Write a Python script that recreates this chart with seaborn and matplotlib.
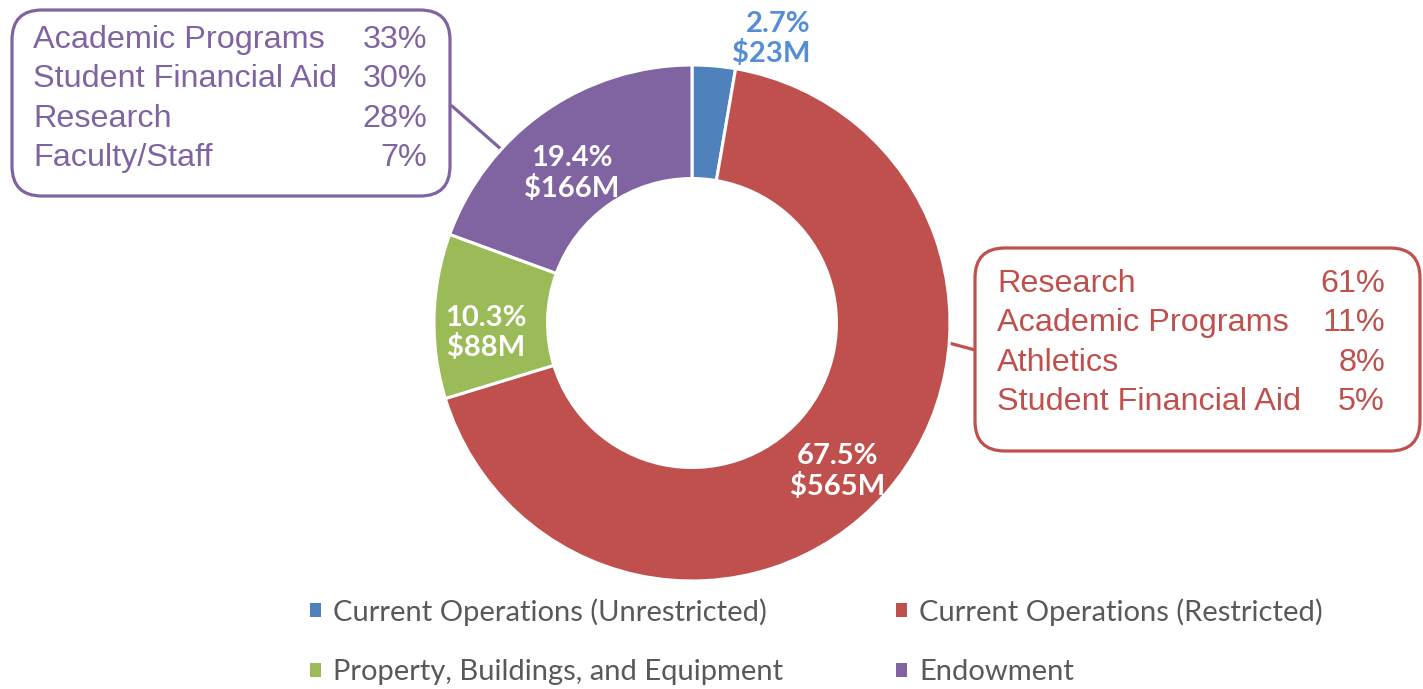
# data visualization imports
import matplotlib.pyplot as plt
from matplotlib.patches import FancyBboxPatch, Patch
import numpy as np
import seaborn as sns


def plot_slice_labels(ax: plt.Axes, wedges, labels, distance: float = 0.78, small: float = 5.0) -> None:
    """
    Adds a two line label (share and amount) to each wedge of the donut.

    Parameters:
    ----------
    ax : plt.Axes
        Matplotlib Axes object holding the donut.
    wedges : list
        Wedge patches returned by ax.pie.
    labels : list
        (share, amount) tuples for each wedge.
    distance : float
        Radius (in pie units) where the labels are centred.
    small : float
        Shares below this value are labelled outside the ring.
    """
    for wedge, (share, amount) in zip(wedges, labels):
        angle = np.deg2rad((wedge.theta1 + wedge.theta2) / 2)
        if share < small:
            r = 1.105
            ax.text(
                np.cos(angle) * r + 0.06, np.sin(angle) * r, f'{share}%\n${amount}M',
                ha='left', va='center', multialignment='right',
                color='#558ED5', fontsize=21, fontweight='bold', family='Lato',
                linespacing=1.1
            )
        else:
            ax.text(
                np.cos(angle) * distance - 0.02, np.sin(angle) * distance - 0.06, f'{share}%\n${amount}M',
                ha='center', va='center', color='white',
                fontsize=21, fontweight='bold', family='Lato', linespacing=1.15
            )


def add_callout(ax: plt.Axes, box: tuple, rows: list, color: str, link: tuple,
                left: float, right: float, first_row: float, step: float = 39.3) -> None:
    """
    Draws a rounded callout box with a breakdown table and a connector line.

    Parameters:
    ----------
    ax : plt.Axes
        Overlay Axes in pixel coordinates.
    box : tuple
        (x, y, width, height) of the box.
    rows : list
        (name, percent) pairs written inside the box.
    color : str
        Colour of the frame, line and text.
    link : tuple
        ((x0, y0), (x1, y1)) of the connector line.
    """
    x, y, w, h = box
    ax.add_patch(FancyBboxPatch(
        (x, y), w, h, boxstyle='round,pad=0,rounding_size=30',
        facecolor='white', edgecolor=color, linewidth=2.3, zorder=2
    ))
    (x0, y0), (x1, y1) = link
    ax.plot([x0, x1], [y0, y1], color=color, linewidth=2.3, zorder=1)

    for it, (name, pct) in enumerate(rows):
        yy = first_row + it * step
        ax.text(left, yy, name, ha='left', va='center', color=color,
                fontsize=23.3, family='Liberation Sans', zorder=3)
        ax.text(right, yy, f'{pct}%', ha='right', va='center', color=color,
                fontsize=23.3, family='Liberation Sans', zorder=3)


sns.set_theme(style='white')

categories = ['Current Operations (Unrestricted)', 'Current Operations (Restricted)',
              'Property, Buildings, and Equipment', 'Endowment']
shares = [2.7, 67.5, 10.3, 19.4]
amounts = [23, 565, 88, 166]
colors = sns.color_palette(['#4F81BD', '#C0504D', '#9BBB59', '#8064A2'])

W, H = 1423, 689
fig = plt.figure(figsize=(W / 100, H / 100), dpi=100)

# overlay in pixel coordinates for the callouts
ov = fig.add_axes([0, 0, 1, 1])
ov.set_xlim(0, W)
ov.set_ylim(H, 0)
ov.axis('off')

# donut: centre (692, 323), outer radius 258 px
ax = fig.add_axes([(692 - 258) / W, (H - 323 - 258) / H, 516 / W, 516 / H])
wedges, _ = ax.pie(
    shares, colors=colors, startangle=90, counterclock=False, radius=1,
    wedgeprops=dict(width=0.44, edgecolor='white', linewidth=2.2)
)
ax.set_xlim(-1, 1)
ax.set_ylim(-1, 1)
ax.set_aspect('equal')
plot_slice_labels(ax, wedges, list(zip(shares, amounts)))

add_callout(ov, (12, 10, 438, 186),
            [('Academic Programs', 33), ('Student Financial Aid', 30), ('Research', 28), ('Faculty/Staff', 7)],
            '#8064A2', ((452, 106), (502, 150)), left=33, right=427, first_row=40)
add_callout(ov, (975, 248, 445, 203),
            [('Research', 61), ('Academic Programs', 11), ('Athletics', 8), ('Student Financial Aid', 5)],
            '#C0504D', ((949, 343), (975, 350)), left=997, right=1385, first_row=284)

# legend is filled column by column, so order the entries to read row by row
order = [0, 2, 1, 3]
handles = [Patch(facecolor=colors[i], edgecolor='none') for i in order]
leg = fig.legend(
    handles, [categories[i] for i in order], ncol=2, loc='upper left',
    bbox_to_anchor=(310 / W, 1 - 598 / H), frameon=False,
    prop={'family': 'Lato', 'size': 21}, labelcolor='#595959',
    handlelength=0.38, handleheight=0.38, handletextpad=0.42,
    labelspacing=1.15, columnspacing=3.85, borderpad=0, borderaxespad=0
)

plt.savefig('out.png', dpi=100)
